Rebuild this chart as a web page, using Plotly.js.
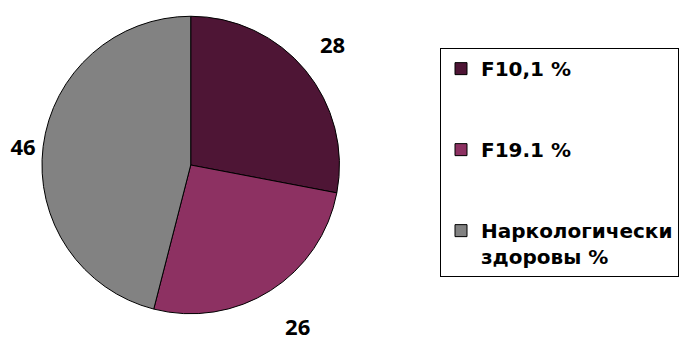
<!DOCTYPE html>
<html>
<head>
<meta charset="utf-8">
<script src="https://cdn.plot.ly/plotly-3.0.1.min.js"></script>
<style>html,body{margin:0;padding:0;background:#fff;}#chart{width:679px;height:339px;}</style>
</head>
<body>
<div id="chart"></div>
<script>
const labels = ["F10,1 %", "F19.1 %", "Наркологически здоровы %"];
const legendNames = ["F10,1 %<br> <br> ", "F19.1 %<br> <br> ", "Наркологически<br>здоровы %"];
const values = [28, 26, 46];
const colors = ["#4e1535", "#8d3162", "#828282"];

const trace = {
  type: "pie",
  labels: legendNames,
  values: values,
  sort: false,
  direction: "clockwise",
  rotation: 0,
  marker: {colors: colors, line: {color: "#000", width: 1}},
  texttemplate: ["%{value}<br> ", "&nbsp;<br>%{value}", "%{value}"],
  textposition: "outside",
  textfont: {family: "Open Sans, sans-serif", size: 22, color: "#000", weight: "bold"},
  automargin: false,
  hoverinfo: "label+value",
  domain: {x: [0.0619, 0.5007], y: [0.0737, 0.9528]}
};

const layout = {
  width: 679, height: 339,
  margin: {l: 0, r: 0, t: 0, b: 0},
  paper_bgcolor: "#fff",
  showlegend: true,
  legend: {
    x: 0.649, y: 0.858, xanchor: "left", yanchor: "top",
    bordercolor: "#000", borderwidth: 1, bgcolor: "#fff",
    valign: "top",
    font: {family: "DejaVu Sans, sans-serif", size: 20, color: "#000", weight: "bold"}
  }
};

Plotly.newPlot("chart", [trace], layout, {displayModeBar: false, staticPlot: true});
</script>
</body>
</html>
